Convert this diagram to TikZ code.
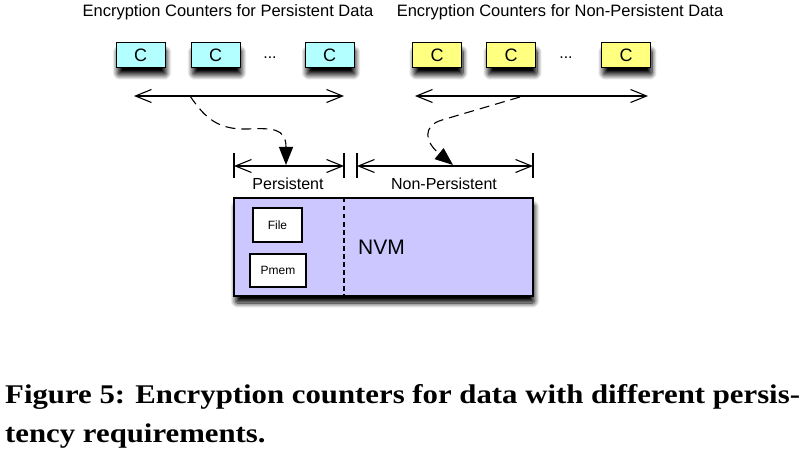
\documentclass[tikz,border=0pt]{standalone}
\usepackage{fontspec}
\setmainfont{Liberation Sans}
\newfontfamily\capfont{Liberation Serif}
\usetikzlibrary{arrows.meta,shadows.blur}
\definecolor{cy}{HTML}{B3FFFF}
\definecolor{yl}{HTML}{FFFF80}
\definecolor{nvmc}{HTML}{CCC8FF}
\tikzset{
  shad/.style={blur shadow={shadow xshift=1.5pt, shadow yshift=-7pt, shadow blur steps=10, shadow opacity=100, shadow blur radius=5pt, shadow blur extra rounding=2pt}},
  cbox/.style={draw, line width=1pt, minimum width=49pt, minimum height=25pt, inner sep=0pt, font=\fontsize{18}{18}\selectfont, shad},
  ttl/.style={font=\fontsize{16.5}{16.5}\selectfont, inner sep=0pt},
  lbl/.style={font=\fontsize{16}{16}\selectfont, inner sep=0pt},
  wbox/.style={draw, fill=white, line width=1.1pt, inner sep=0pt, font=\fontsize{12}{12}\selectfont},
  dbl/.style={line width=1.1pt, {Straight Barb[length=16pt,width=13pt,line width=1.1pt]}-{Straight Barb[length=16pt,width=13pt,line width=1.1pt]}},
  bar/.style={line width=1.1pt},
  dcurve/.style={line width=1.1pt, dash pattern=on 10pt off 6pt, -{Triangle[length=18pt,width=14pt]}},
}
\begin{document}
\begin{tikzpicture}[x=1pt,y=-1pt]
\useasboundingbox (0,0) rectangle (810,454);
% titles
\node[ttl] (t1) at (228,12) {Encryption Counters for Persistent Data};
\node[ttl] (t2) at (560,12) {Encryption Counters for Non-Persistent Data};
% counters
\node[cbox, fill=cy] (c1) at (140.5,55.5) {C};
\node[cbox, fill=cy] (c2) at (215.5,55.5) {C};
\node[lbl] (d1) at (270,58) {...};
\node[cbox, fill=cy] (c3) at (329.5,55.5) {C};
\node[cbox, fill=yl] (y1) at (437,55.5) {C};
\node[cbox, fill=yl] (y2) at (511,55.5) {C};
\node[lbl] (d2) at (566,58) {...};
\node[cbox, fill=yl] (y3) at (626,55.5) {C};
% range arrows
\coordinate (aL1) at (134,96);
\coordinate (aR1) at (344,96);
\coordinate (aL2) at (415,96);
\coordinate (aR2) at (648,96);
\draw[dbl] (aL1) -- (aR1);
\draw[dbl] (aL2) -- (aR2);
% NVM
\node[draw, fill=nvmc, line width=1.1pt, minimum width=299pt, minimum height=98pt, inner sep=0pt, shad] (nvm) at (383.5,247) {};
\node[font=\fontsize{21}{21}\selectfont, anchor=west, inner sep=0pt] (nvmt) at (358,247) {NVM};
\coordinate (sepT) at (344,198);
\coordinate (sepB) at (344,296);
\draw[line width=1.1pt, dash pattern=on 4.5pt off 3.5pt] (sepT) -- (sepB);
\node[wbox, minimum width=49pt, minimum height=34pt] (file) at (277.5,225) {File};
\node[wbox, minimum width=56pt, minimum height=33pt] (pmem) at (278,270.5) {Pmem};
% brackets
\coordinate (b1a) at (234,153); \coordinate (b1b) at (234,178);
\coordinate (b2a) at (344,153); \coordinate (b2b) at (344,178);
\coordinate (b3a) at (357,153); \coordinate (b3b) at (357,178);
\coordinate (b4a) at (533,153); \coordinate (b4b) at (533,178);
\draw[bar] (b1a) -- (b1b);
\draw[bar] (b2a) -- (b2b);
\draw[bar] (b3a) -- (b3b);
\draw[bar] (b4a) -- (b4b);
\coordinate (p1) at (234,166); \coordinate (p2) at (344,166);
\coordinate (n1) at (357,166); \coordinate (n2) at (533,166);
\draw[dbl] (p1) -- (p2);
\draw[dbl] (n1) -- (n2);
\node[lbl] (lp) at (288,184) {Persistent};
\node[lbl] (ln) at (444,184) {Non-Persistent};
% dashed connectors
\coordinate (s1) at (190,96);
\coordinate (e1) at (286,165);
\coordinate (s2) at (520,97);
\coordinate (e2) at (453,165);
\draw[dcurve] (s1) .. controls (205,118) and (218,130) .. (248,129) .. controls (272,128) and (286,128) .. (e1);
\draw[dcurve] (s2) -- (442,120) .. controls (422,126) and (425,142) .. (e2);
% caption
\node[anchor=base west, inner sep=0pt, font=\capfont\bfseries\fontsize{27}{27}\selectfont] (cap1) at (5,403) {\scalebox{1.14}[1]{Figure 5: Encryption counters for data with different persis-}};
\node[anchor=base west, inner sep=0pt, font=\capfont\bfseries\fontsize{27}{27}\selectfont] (cap2) at (5,442) {\scalebox{1.14}[1]{tency requirements.}};
\end{tikzpicture}
\end{document}
